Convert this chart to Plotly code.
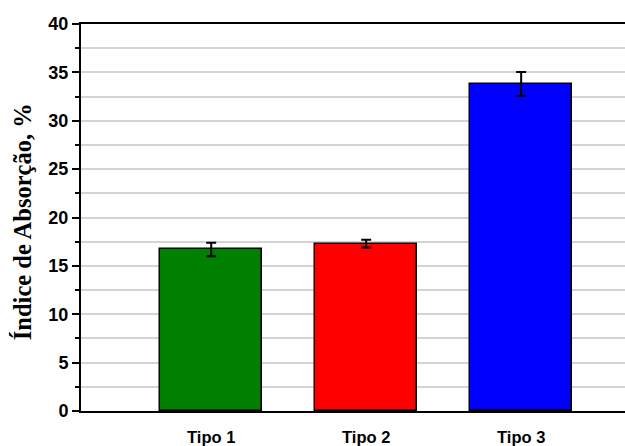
import plotly.graph_objects as go

# Absorption index per sample type (mean and standard deviation)
categorias = ["Tipo 1", "Tipo 2", "Tipo 3"]
indice_absorcao = [16.7, 17.3, 33.8]
desvio_padrao = [0.7, 0.4, 1.25]
cores = ["#008000", "#FF0000", "#0000FF"]

fig = go.Figure(
    go.Bar(
        x=categorias,
        y=indice_absorcao,
        width=0.66,
        marker=dict(color=cores, line=dict(color="black", width=1.5)),
        error_y=dict(type="data", array=desvio_padrao, visible=True,
                     color="black", thickness=2, width=5),
    )
)

fig.update_layout(
    width=625,
    height=446,
    margin=dict(l=81, r=0, t=24, b=35),
    plot_bgcolor="white",
    paper_bgcolor="white",
    showlegend=False,
    bargap=0,
)

fig.update_xaxes(
    range=[-0.84, 2.67],
    showline=True, linecolor="black", linewidth=2, mirror=True,
    ticks="", showgrid=False,
    ticklabelstandoff=10,
    tickfont=dict(family="Liberation Sans", size=16.5, color="black", weight="bold"),
)

fig.update_yaxes(
    range=[0, 40],
    dtick=5,
    showline=True, linecolor="black", linewidth=2,
    ticks="outside", ticklen=7, tickwidth=2, tickcolor="black",
    showgrid=True, gridcolor="#d4d4d4", gridwidth=1.5,
    minor=dict(dtick=2.5, ticks="outside", ticklen=4, tickwidth=2,
               tickcolor="black", showgrid=True, gridcolor="#d4d4d4", gridwidth=1.5),
    zeroline=False,
    tickfont=dict(family="Liberation Sans", size=18, color="black", weight="bold"),
)

fig.add_annotation(
    text="Índice de Absorção, %",
    xref="paper", yref="paper",
    x=-0.107, y=0.49,
    xanchor="center", yanchor="middle",
    textangle=-90, showarrow=False,
    font=dict(family="Liberation Serif", size=24.5, color="black", weight="bold"),
)

fig.write_html("out.html")
